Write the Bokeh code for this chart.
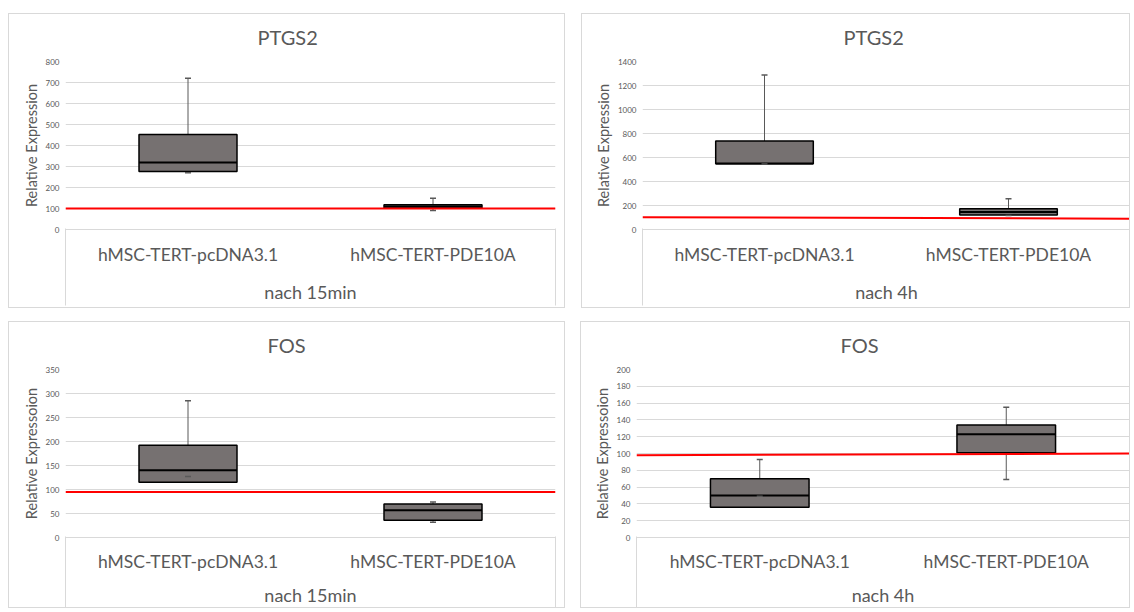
from bokeh.plotting import figure
from bokeh.models import Range1d, FixedTicker, LinearAxis
from bokeh.layouts import row, column
from bokeh.embed import file_html
from bokeh.resources import INLINE

# ---------------- data ----------------
categories = ["hMSC-TERT-pcDNA3.1", "hMSC-TERT-PDE10A"]

titles = ["PTGS2", "PTGS2", "FOS", "FOS"]
group_labels = ["nach 15min", "nach 4h", "nach 15min", "nach 4h"]
y_labels = ["Relative Expression", "Relative Expression",
            "Relative Expressoion", "Relative Expressoion"]

y_ticks_ptgs2_15 = [0, 100, 200, 300, 400, 500, 600, 700, 800]
y_ticks_ptgs2_4h = [0, 200, 400, 600, 800, 1000, 1200, 1400]
y_ticks_fos_15 = [0, 50, 100, 150, 200, 250, 300, 350]
y_ticks_fos_4h = [0, 20, 40, 60, 80, 100, 120, 140, 160, 180, 200]

# box plot statistics per category (pcDNA3.1, PDE10A)
whisker_low_ptgs2_15 = [270, 90]
q1_ptgs2_15 = [276, 102]
median_ptgs2_15 = [319, 110]
q3_ptgs2_15 = [452, 118]
whisker_high_ptgs2_15 = [720, 149]

whisker_low_ptgs2_4h = [545, 117]
q1_ptgs2_4h = [548, 120]
median_ptgs2_4h = [550, 145]
q3_ptgs2_4h = [737, 172]
whisker_high_ptgs2_4h = [1287, 256]

whisker_low_fos_15 = [127, 32]
q1_fos_15 = [115, 36]
median_fos_15 = [140, 57]
q3_fos_15 = [192, 70]
whisker_high_fos_15 = [285, 74]

whisker_low_fos_4h = [49, 69]
q1_fos_4h = [36, 101]
median_fos_4h = [50, 123]
q3_fos_4h = [70, 134]
whisker_high_fos_4h = [93, 155]

# red 100 % reference line (value at left end, value at right end)
baseline_ptgs2_15 = [100, 100]
baseline_ptgs2_4h = [102, 90]
baseline_fos_15 = [95, 95]
baseline_fos_4h = [98, 100]

panels_data = [
    (y_ticks_ptgs2_15, whisker_low_ptgs2_15, q1_ptgs2_15, median_ptgs2_15, q3_ptgs2_15, whisker_high_ptgs2_15, baseline_ptgs2_15),
    (y_ticks_ptgs2_4h, whisker_low_ptgs2_4h, q1_ptgs2_4h, median_ptgs2_4h, q3_ptgs2_4h, whisker_high_ptgs2_4h, baseline_ptgs2_4h),
    (y_ticks_fos_15, whisker_low_fos_15, q1_fos_15, median_fos_15, q3_fos_15, whisker_high_fos_15, baseline_fos_15),
    (y_ticks_fos_4h, whisker_low_fos_4h, q1_fos_4h, median_fos_4h, q3_fos_4h, whisker_high_fos_4h, baseline_fos_4h),
]

# ---------------- layout / style ----------------
FONT = "Lato"
TEXT = "#595959"
GRID = "#D9D9D9"
BOX_FILL = "#767171"
BOX_WIDTH = 0.4

geom = [
    dict(w=557, h=295, bl=56, br=11, bt=47, bb=80, margin=(13, 0, 0, 8), toff=192, s1=8, s2=13),
    dict(w=549, h=295, bl=60, br=1, bt=47, bb=80, margin=(13, 0, 0, 16), toff=201, s1=8, s2=13),
    dict(w=557, h=287, bl=56, br=11, bt=47, bb=72, margin=(13, 0, 0, 8), toff=202, s1=7, s2=9),
    dict(w=550, h=287, bl=55, br=2, bt=47, bb=72, margin=(13, 0, 0, 15), toff=204, s1=7, s2=9),
]
CAT_AXIS_CONTENT = 56   # height of the two label rows of the category axis

n_cat = len(categories)
x_pos = [k + 0.5 for k in range(n_cat)]          # centre of each category slot


def make_panel(i):
    ticks, wlo, q1, med, q3, whi, base = panels_data[i]
    g = geom[i]
    ymax = ticks[-1]
    p = figure(x_range=Range1d(0, n_cat), y_range=Range1d(0, ymax),
               width=g["w"], height=g["h"], output_backend="svg", toolbar_location=None,
               min_border_left=g["bl"], min_border_right=g["br"],
               min_border_top=g["bt"], min_border_bottom=g["bb"],
               title=titles[i])
    p.margin = g["margin"]
    p.styles = {"border": "1px solid #D9D9D9"}
    p.outline_line_color = None
    p.background_fill_color = "white"
    p.border_fill_color = "white"

    # title
    p.title.text_font = FONT
    p.title.text_font_size = "20px"
    p.title.text_font_style = "normal"
    p.title.text_color = TEXT
    p.title.align = "left"
    p.title.vertical_align = "top"
    p.title.offset = g["toff"]
    p.title.standoff = 21

    # y axis
    p.yaxis.ticker = FixedTicker(ticks=ticks)
    p.yaxis.axis_line_color = None
    p.yaxis.major_tick_line_color = None
    p.yaxis.minor_tick_line_color = None
    p.yaxis.major_label_text_font = FONT
    p.yaxis.major_label_text_font_size = "8px"
    p.yaxis.major_label_text_color = TEXT
    p.yaxis.major_label_standoff = 0
    p.yaxis.axis_label = y_labels[i]
    p.yaxis.axis_label_text_font = FONT
    p.yaxis.axis_label_text_font_size = "14.5px"
    p.yaxis.axis_label_text_font_style = "normal"
    p.yaxis.axis_label_text_color = TEXT
    p.yaxis.axis_label_standoff = 3
    p.ygrid.grid_line_color = GRID
    p.xgrid.grid_line_color = None

    # x axis (categories + group label); its line is the top of the table
    xa = p.xaxis[0]
    xa.ticker = FixedTicker(ticks=x_pos)
    xa.major_label_overrides = {x: c for x, c in zip(x_pos, categories)}
    xa.axis_line_color = GRID
    xa.axis_line_width = 1
    xa.major_tick_line_color = None
    xa.minor_tick_line_color = None
    xa.major_label_text_font = FONT
    xa.major_label_text_font_size = "17.5px"
    xa.major_label_text_color = TEXT
    xa.major_label_standoff = g["s1"]
    xa.axis_label = group_labels[i]
    xa.axis_label_text_font = FONT
    xa.axis_label_text_font_size = "18px"
    xa.axis_label_text_font_style = "normal"
    xa.axis_label_text_color = TEXT
    xa.axis_label_standoff = g["s2"]

    # second axis below: its ticks at both ends draw the side lines of the table
    edge_axis = LinearAxis(ticker=FixedTicker(ticks=[0, n_cat]))
    edge_axis.axis_line_color = None
    edge_axis.major_tick_in = CAT_AXIS_CONTENT + g["s1"] + g["s2"]
    edge_axis.major_tick_out = 0
    edge_axis.major_tick_line_color = GRID
    edge_axis.minor_tick_line_color = None
    edge_axis.major_label_text_font_size = "0px"
    edge_axis.major_label_overrides = {0: "", n_cat: ""}
    edge_axis.major_label_standoff = 0
    edge_axis.axis_label_standoff = 0
    p.add_layout(edge_axis, "below")

    # whiskers (under the box)
    p.segment(x0=x_pos, y0=q3, x1=x_pos, y1=whi, line_color=TEXT, line_width=1)
    p.segment(x0=x_pos, y0=q1, x1=x_pos, y1=wlo, line_color=TEXT, line_width=1)
    # boxes
    p.vbar(x=x_pos, bottom=q1, top=q3, width=BOX_WIDTH,
           fill_color=BOX_FILL, line_color="black", line_width=1.5)
    # medians
    p.segment(x0=[x - BOX_WIDTH / 2 for x in x_pos], y0=med,
              x1=[x + BOX_WIDTH / 2 for x in x_pos], y1=med,
              line_color="black", line_width=2)
    # whisker caps
    p.scatter(x=x_pos, y=whi, marker="dash", size=6, line_color=TEXT, line_width=1.5)
    p.scatter(x=x_pos, y=wlo, marker="dash", size=6, line_color=TEXT, line_width=1.5)

    # red reference line across the whole plot width
    p.segment(x0=[0], y0=[base[0]], x1=[n_cat], y1=[base[1]],
              line_color="#FF0000", line_width=2)
    return p


panels = [make_panel(i) for i in range(4)]
layout = column(row(panels[0], panels[1]), row(panels[2], panels[3]))

open("out.html", "w").write(file_html(layout, INLINE))
